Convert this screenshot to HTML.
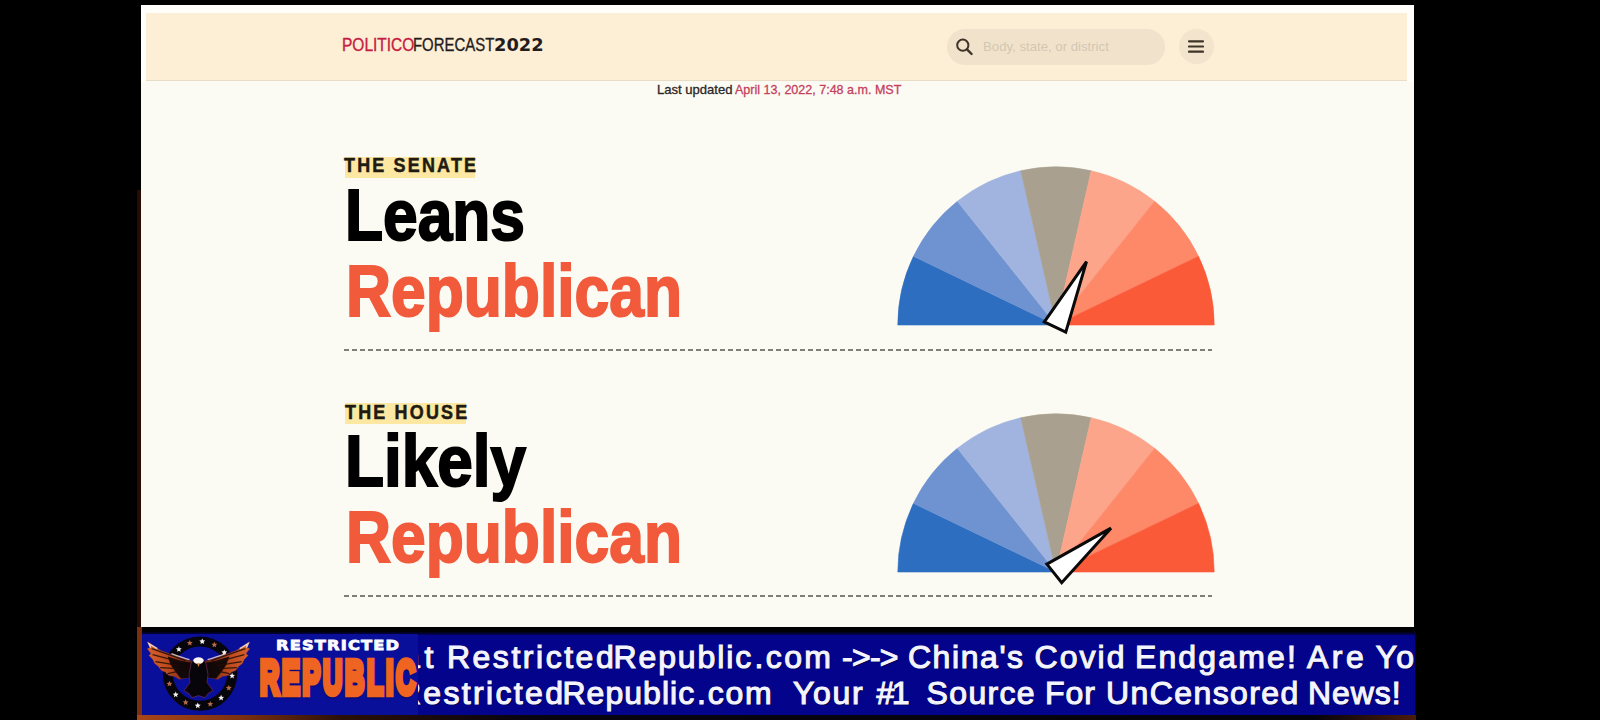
<!DOCTYPE html>
<html lang="en">
<head>
<meta charset="utf-8">
<title>POLITICO Forecast 2022</title>
<style>
html,body{margin:0;padding:0;}
body{width:1600px;height:720px;background:#000;overflow:hidden;position:relative;font-family:"Liberation Sans",sans-serif;}
.abs{position:absolute;}
.page{left:141px;top:5px;width:1273px;height:622px;background:#fcfbf3;}
.topstrip{left:141px;top:5px;width:1273px;height:8px;background:#fffefb;}
.header{left:146px;top:13px;width:1261px;height:67px;background:#fdeed6;border-bottom:1px solid #e9dcc6;}
.t{position:absolute;white-space:nowrap;line-height:1;transform-origin:0 0;}
.logo{top:36px;font-size:18.5px;color:#241c1c;-webkit-text-stroke:0.35px currentColor;}
.search{left:947px;top:29px;width:218px;height:36px;border-radius:18px;background:#f1e3cb;}
.ph{top:40px;font-size:13px;color:#d3c7b3;}
.menu{left:1179px;top:29px;width:35px;height:35px;border-radius:50%;background:#f3e5cd;}
.upd{top:83px;font-size:13px;color:#2a2626;-webkit-text-stroke:0.3px currentColor;}
.label{font-size:19.5px;font-weight:bold;letter-spacing:2.38px;color:#1f1a12;transform:scaleX(.92);-webkit-text-stroke:0.5px #1f1a12;}
.hl{background:#fce8a2;}
.big{font-size:72.3px;font-weight:bold;color:#000;-webkit-text-stroke:2px currentColor;}
.rep{color:#f25a3c;}
.dash{left:344px;width:868px;height:2px;background:repeating-linear-gradient(90deg,#807e78 0 5px,transparent 5px 8px);}
.ticker{left:141px;top:634px;width:1274px;height:81px;background:#03038c;}
.tickclip{left:418px;top:634px;width:997px;height:81px;overflow:hidden;}
.tk{font-size:32px;font-weight:normal;color:#f4f4ff;-webkit-text-stroke:1.1px #f4f4ff;text-shadow:1px 1px 1px #00003a;}
</style>
</head>
<body>
<div class="abs page"></div>
<div class="abs topstrip"></div>
<div class="abs" style="left:141px;top:5px;width:5px;height:77px;background:#fffefb"></div>
<div class="abs" style="left:1407px;top:5px;width:7px;height:77px;background:#fffefb"></div>
<div class="abs header"></div>

<div class="t logo" id="lg1" style="left:342.13px;transform:scaleX(0.838);color:#c5203e">POLITICO</div>
<div class="t logo" id="lg2" style="left:413.48px;transform:scaleX(0.8068)">FORECAST</div>
<div class="t logo" id="lg3" style="left:493.89px;transform:scaleX(1.0024);font-family:'DejaVu Sans','Liberation Sans',sans-serif;font-weight:bold;font-size:17.8px;top:35.5px;-webkit-text-stroke:0">2022</div>

<div class="abs search"></div>
<svg class="abs" style="left:953px;top:36px" width="24" height="24" viewBox="0 0 24 24"><circle cx="9.8" cy="9.2" r="5.6" fill="none" stroke="#3f3428" stroke-width="2"/><path d="M14 13.4 L18.6 18" stroke="#3f3428" stroke-width="2.4" stroke-linecap="round"/></svg>
<div class="t ph" id="ph" style="left:983.32px;transform:scaleX(1.0143)">Body, state, or district</div>
<div class="abs menu"></div>
<svg class="abs" style="left:1188px;top:39px" width="16" height="16" viewBox="0 0 16 16"><path d="M1 2.3H15M1 7.5H15M1 12.7H15" stroke="#3f3428" stroke-width="2.2" stroke-linecap="round"/></svg>

<div class="t upd" id="u1" style="left:656.63px;transform:scaleX(1.0045)">Last updated</div>
<div class="t upd" id="u2" style="left:734.98px;transform:scaleX(0.963);color:#c4405c">April 13, 2022, 7:48 a.m. MST</div>

<!-- SENATE -->
<div class="abs hl" style="left:345px;top:156.5px;width:130px;height:21px"></div>
<div class="t label" id="l1" style="left:344px;top:156px">THE SENATE</div>
<div class="t big" id="w1" style="left:344.7px;top:178.9px;transform:scaleX(.861)">Leans</div>
<div class="t big rep" id="w2" style="left:346.4px;top:254.6px;transform:scaleX(.8624)">Republican</div>
<svg class="abs" style="left:896.2px;top:165px" width="320" height="180" viewBox="0 0 320 180">
<path d="M160 160L1.80 160.00A158.2 158.2 0 0 1 17.47 91.36Z" fill="#2d6ec0" stroke="#2d6ec0" stroke-width="0.6"/>
<path d="M160 160L17.47 91.36A158.2 158.2 0 0 1 61.36 36.31Z" fill="#6f93d1" stroke="#6f93d1" stroke-width="0.6"/>
<path d="M160 160L61.36 36.31A158.2 158.2 0 0 1 124.80 5.77Z" fill="#a1b4df" stroke="#a1b4df" stroke-width="0.6"/>
<path d="M160 160L124.80 5.77A158.2 158.2 0 0 1 195.20 5.77Z" fill="#a9a08f" stroke="#a9a08f" stroke-width="0.6"/>
<path d="M160 160L195.20 5.77A158.2 158.2 0 0 1 258.64 36.31Z" fill="#fca58b" stroke="#fca58b" stroke-width="0.6"/>
<path d="M160 160L258.64 36.31A158.2 158.2 0 0 1 302.53 91.36Z" fill="#fd8968" stroke="#fd8968" stroke-width="0.6"/>
<path d="M160 160L302.53 91.36A158.2 158.2 0 0 1 318.20 160.00Z" fill="#fb5a39" stroke="#fb5a39" stroke-width="0.6"/>
<path d="M-11.9 2.2L0 -70.3L11.9 2.2Z" transform="translate(160 160) rotate(25.71)" fill="#fff" stroke="#0a0a0a" stroke-width="3" stroke-linejoin="miter"/>
</svg>
<div class="abs dash" style="top:349px"></div>

<!-- HOUSE -->
<div class="abs hl" style="left:345px;top:402.5px;width:121px;height:21px"></div>
<div class="t label" id="l2" style="left:344.7px;top:403px">THE HOUSE</div>
<div class="t big" id="w3" style="left:344.7px;top:424.7px;transform:scaleX(.8835)">Likely</div>
<div class="t big rep" id="w4" style="left:346.4px;top:501.4px;transform:scaleX(.8624)">Republican</div>
<svg class="abs" style="left:896.2px;top:411.5px" width="320" height="180" viewBox="0 0 320 180">
<path d="M160 160L1.80 160.00A158.2 158.2 0 0 1 17.47 91.36Z" fill="#2d6ec0" stroke="#2d6ec0" stroke-width="0.6"/>
<path d="M160 160L17.47 91.36A158.2 158.2 0 0 1 61.36 36.31Z" fill="#6f93d1" stroke="#6f93d1" stroke-width="0.6"/>
<path d="M160 160L61.36 36.31A158.2 158.2 0 0 1 124.80 5.77Z" fill="#a1b4df" stroke="#a1b4df" stroke-width="0.6"/>
<path d="M160 160L124.80 5.77A158.2 158.2 0 0 1 195.20 5.77Z" fill="#a9a08f" stroke="#a9a08f" stroke-width="0.6"/>
<path d="M160 160L195.20 5.77A158.2 158.2 0 0 1 258.64 36.31Z" fill="#fca58b" stroke="#fca58b" stroke-width="0.6"/>
<path d="M160 160L258.64 36.31A158.2 158.2 0 0 1 302.53 91.36Z" fill="#fd8968" stroke="#fd8968" stroke-width="0.6"/>
<path d="M160 160L302.53 91.36A158.2 158.2 0 0 1 318.20 160.00Z" fill="#fb5a39" stroke="#fb5a39" stroke-width="0.6"/>
<path d="M-11.9 2.2L0 -70.3L11.9 2.2Z" transform="translate(160 160) rotate(51.43)" fill="#fff" stroke="#0a0a0a" stroke-width="3" stroke-linejoin="miter"/>
</svg>
<div class="abs dash" style="top:595px"></div>

<!-- TICKER -->
<div class="abs ticker"></div>
<div class="abs" style="left:137px;top:627px;width:1279px;height:8px;background:linear-gradient(180deg,#000 0,#000 50%,#02025a 100%)"></div>
<div class="abs" style="left:141px;top:634px;width:277px;height:81px;background:#0a0f9a"></div>
<div class="abs" style="left:137px;top:627px;width:5px;height:93px;background:#7a3010"></div>
<div class="abs" style="left:137px;top:715px;width:1279px;height:5px;background:linear-gradient(90deg,#a8461a 0,#7a3012 8%,#2a1008 16%,#080410 30%,#05030c 92%,#4a1c0c 100%)"></div>
<div class="abs" style="left:137px;top:190px;width:4px;height:437px;background:#260c05"></div>
<svg class="abs" style="left:141px;top:634px" width="130" height="81" viewBox="141 634 130 81">
<defs><linearGradient id="wgr" x1="0" y1="0" x2="1" y2="0"><stop offset="0" stop-color="#5a1c0c"/><stop offset="0.5" stop-color="#b8481c"/><stop offset="1" stop-color="#d8622e"/></linearGradient></defs>
<g transform="translate(200 673.6)">
<circle r="32.2" fill="none" stroke="#07050c" stroke-width="10"/>
<polygon points="2.2,-35.2 3.1,-33.3 5.2,-33.1 3.6,-31.7 4.1,-29.6 2.2,-30.7 0.4,-29.6 0.9,-31.7 -0.7,-33.1 1.4,-33.3" fill="#f4f2f0"/><polygon points="14.4,-31.9 15.2,-29.9 17.3,-29.8 15.7,-28.4 16.2,-26.3 14.4,-27.4 12.5,-26.3 13.0,-28.4 11.4,-29.8 13.5,-29.9" fill="#b86a4a"/><polygon points="24.3,-24.2 25.1,-22.3 27.2,-22.1 25.6,-20.7 26.1,-18.6 24.3,-19.7 22.5,-18.6 23.0,-20.7 21.4,-22.1 23.5,-22.3" fill="#f4f2f0"/><polygon points="30.5,-13.3 31.4,-11.3 33.5,-11.2 31.9,-9.8 32.4,-7.7 30.5,-8.8 28.7,-7.7 29.2,-9.8 27.6,-11.2 29.7,-11.3" fill="#b86a4a"/><polygon points="32.1,-0.9 32.9,1.1 35.1,1.3 33.4,2.7 33.9,4.8 32.1,3.6 30.3,4.8 30.8,2.7 29.2,1.3 31.3,1.1" fill="#f4f2f0"/><polygon points="28.8,11.3 29.6,13.2 31.8,13.4 30.1,14.8 30.6,16.9 28.8,15.8 27.0,16.9 27.5,14.8 25.9,13.4 28.0,13.2" fill="#b86a4a"/><polygon points="21.1,21.2 21.9,23.2 24.1,23.3 22.5,24.7 22.9,26.8 21.1,25.7 19.3,26.8 19.8,24.7 18.2,23.3 20.3,23.2" fill="#f4f2f0"/><polygon points="10.2,27.4 11.0,29.4 13.2,29.6 11.5,31.0 12.0,33.0 10.2,31.9 8.4,33.0 8.9,31.0 7.3,29.6 9.4,29.4" fill="#b86a4a"/><polygon points="-2.2,29.0 -1.4,31.0 0.7,31.2 -0.9,32.6 -0.4,34.6 -2.2,33.5 -4.1,34.6 -3.6,32.6 -5.2,31.2 -3.1,31.0" fill="#f4f2f0"/><polygon points="-14.4,25.7 -13.5,27.7 -11.4,27.9 -13.0,29.2 -12.5,31.3 -14.4,30.2 -16.2,31.3 -15.7,29.2 -17.3,27.9 -15.2,27.7" fill="#b86a4a"/><polygon points="-24.3,18.0 -23.5,20.0 -21.4,20.2 -23.0,21.6 -22.5,23.6 -24.3,22.5 -26.1,23.6 -25.6,21.6 -27.2,20.2 -25.1,20.0" fill="#f4f2f0"/><polygon points="-30.5,7.1 -29.7,9.1 -27.6,9.3 -29.2,10.6 -28.7,12.7 -30.5,11.6 -32.4,12.7 -31.9,10.6 -33.5,9.3 -31.4,9.1" fill="#b86a4a"/><polygon points="-32.1,-5.3 -31.3,-3.4 -29.2,-3.2 -30.8,-1.8 -30.3,0.3 -32.1,-0.9 -33.9,0.3 -33.4,-1.8 -35.1,-3.2 -32.9,-3.4" fill="#f4f2f0"/><polygon points="-28.8,-17.5 -28.0,-15.5 -25.9,-15.3 -27.5,-13.9 -27.0,-11.9 -28.8,-13.0 -30.6,-11.9 -30.1,-13.9 -31.8,-15.3 -29.6,-15.5" fill="#b86a4a"/><polygon points="-21.1,-27.4 -20.3,-25.4 -18.2,-25.3 -19.8,-23.9 -19.3,-21.8 -21.1,-22.9 -22.9,-21.8 -22.5,-23.9 -24.1,-25.3 -21.9,-25.4" fill="#f4f2f0"/><polygon points="-10.2,-33.6 -9.4,-31.7 -7.3,-31.5 -8.9,-30.1 -8.4,-28.0 -10.2,-29.1 -12.0,-28.0 -11.5,-30.1 -13.2,-31.5 -11.0,-31.7" fill="#b86a4a"/>
<g id="wg"><g transform="scale(.945 1)">
<path d="M5,-12.5 C12,-14 24,-18 38,-23 L45,-27 L52,-32 L50,-26 L53,-25 L49,-20 L51,-18 L47,-14 L45,-10 L41,-7 L38,-3 L33,-1 L30,2 L24,3 L19,6 L8,4 Z" fill="url(#wgr)" stroke="#3a1c70" stroke-width="1" stroke-opacity="0.55"/>
<path d="M5,-10.5 C12,-11.5 21,-13.5 31,-17 L28,-9 L23,-2 L17,5 L8,4 Z" fill="#0a0508" opacity="0.93"/>
<path d="M12,-13 L48,-25 M15,-11 L47,-19 M18,-8 L44,-12 M20,-5 L39,-6 M21,-2 L31,0" stroke="#240c06" stroke-width="1.4" fill="none" opacity="0.85"/>
<path d="M8,-14 C14,-15.5 20,-17.5 27,-20" stroke="#fbe4d6" stroke-width="1.4" fill="none" opacity="0.8"/>
<path d="M42,-25 L51,-30 L49,-26" stroke="#fbe4d6" stroke-width="1.5" fill="none" opacity="0.85"/>
</g></g>
<use href="#wg" transform="scale(-1 1) translate(3 0)"/>
<path d="M-9,-10 C-8,-16 5,-16 6,-10 L8,1 L7,9 L13,17 L8,20 L5,24 L-1.5,22 L-8,24 L-11,20 L-16,17 L-10,9 L-11,1 Z" fill="#08050a" stroke="#7a2c5a" stroke-width="0.9" stroke-opacity="0.7"/>
<ellipse cx="-1.5" cy="-13" rx="5.2" ry="3.3" fill="#fbf6f2"/>
<path d="M-3,-10.5 L0,-10.5 L-1.5,-6.5 Z" fill="#e08a50"/>
</g>
</svg>
<div class="t" id="rs" style="left:276.3px;top:638px;font-family:'DejaVu Sans','Liberation Sans',sans-serif;font-weight:bold;font-size:14px;letter-spacing:1px;color:#fbfbff;transform:scaleX(1.16);-webkit-text-stroke:0.8px #fbfbff">RESTRICTED</div>
<div class="t" id="rp" style="left:260.1px;top:653.2px;font-weight:bold;font-size:48.7px;letter-spacing:5px;color:#ef6420;-webkit-text-stroke:6.5px #ef6420;transform:scaleX(0.5472);text-shadow:0 4px 3px rgba(0,0,40,.7)">REPUBLIC</div>

<div class="abs tickclip">
  <div class="abs" id="k1"><span class="t tk" style="left:-16.0px;top:7px">a</span><span class="t tk" style="left:6.5px;top:7px">t</span><span class="t tk" style="left:28.9px;top:7px;letter-spacing:2.53px">Restricted</span><span class="t tk" style="left:195.5px;top:7px;letter-spacing:1.89px">Republic</span><span class="t tk" style="left:336.6px;top:7px;letter-spacing:2.36px">.com</span><span class="t tk" style="left:424.1px;top:7px;letter-spacing:-0.77px">-&gt;-&gt;</span><span class="t tk" style="left:489.9px;top:7px;letter-spacing:1.58px">China's</span><span class="t tk" style="left:616.5px;top:7px;letter-spacing:2.04px">Covid</span><span class="t tk" style="left:716.9px;top:7px;letter-spacing:2.15px">Endgame!</span><span class="t tk" style="left:889.0px;top:7px;letter-spacing:3.50px">Are</span><span class="t tk" style="left:957.8px;top:7px;letter-spacing:2px">You Ready?</span></div>
  <div class="abs" id="k2"><span class="t tk" style="left:-20.1px;top:43px;letter-spacing:2.34px">Restricted</span><span class="t tk" style="left:144.4px;top:43px;letter-spacing:1.05px">Republic</span><span class="t tk" style="left:279.1px;top:43px;letter-spacing:1.70px">.com</span><span class="t tk" style="left:374.9px;top:43px;letter-spacing:1.68px">Your</span><span class="t tk" style="left:458.4px;top:43px;letter-spacing:-2.50px">#1</span><span class="t tk" style="left:508.6px;top:43px;letter-spacing:1.33px">Source</span><span class="t tk" style="left:626.9px;top:43px;letter-spacing:1.03px">For</span><span class="t tk" style="left:688.1px;top:43px;letter-spacing:1.39px">UnCensored</span><span class="t tk" style="left:889.9px;top:43px;letter-spacing:0.96px">News!</span></div>
</div>
</body>
</html>
